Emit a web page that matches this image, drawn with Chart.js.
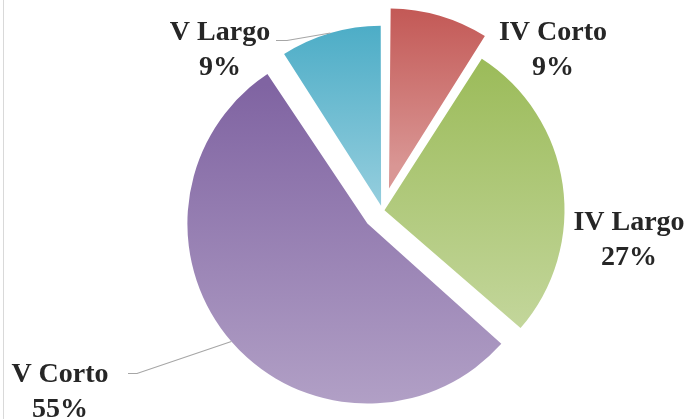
<!DOCTYPE html>
<html><head><meta charset="utf-8">
<script src="https://cdn.jsdelivr.net/npm/chart.js@4.4.0/dist/chart.umd.min.js"></script>
<style>
html,body{margin:0;padding:0;background:#fff;overflow:hidden}
#wrap{position:relative;width:691px;height:419px}
#edge{position:absolute;left:3px;top:0;width:1px;height:419px;background:#d9d9d9}
canvas{display:block}
</style></head><body>
<div id="wrap"><canvas id="c" width="691" height="419"></canvas><div id="edge"></div></div>
<script>
const categories = ['IV Corto', 'IV Largo', 'V Corto', 'V Largo'];
const values = [1, 3, 6, 1];
const explode = [92, 8, 80, 20];
const topColors = ['#C0504D', '#9BBB59', '#8064A2', '#4BACC6'];
const bottomColors = ['#D99694', '#C3D69B', '#B3A2C7', '#93CDDD'];

const RADIUS = 180;
const total = values.reduce((a, b) => a + b, 0);
const percentLabels = values.map(v => Math.round(v / total * 100) + '%');

function sliceGradient(context) {
  const chart = context.chart, area = chart.chartArea, i = context.dataIndex;
  if (!area) return topColors[i];
  const data = context.dataset.data;
  const tot = data.reduce((a, b) => a + b, 0);
  let cum = 0;
  for (let k = 0; k < i; k++) cum += data[k];
  const a0 = -Math.PI / 2 + 2 * Math.PI * cum / tot;
  const a1 = a0 + 2 * Math.PI * data[i] / tot;
  const t = explode[i] / 4;
  const r = RADIUS;
  const mid = (a0 + a1) / 2;
  const cy = (area.top + area.bottom) / 2 + Math.sin(mid) * t;
  const ys = [cy, cy + Math.sin(a0) * r, cy + Math.sin(a1) * r];
  for (const ang of [-Math.PI / 2, Math.PI / 2, 3 * Math.PI / 2]) {
    if (ang >= a0 && ang <= a1) ys.push(cy + Math.sin(ang) * r);
  }
  const g = chart.ctx.createLinearGradient(0, Math.min(...ys), 0, Math.max(...ys));
  g.addColorStop(0, topColors[i]);
  g.addColorStop(1, bottomColors[i]);
  return g;
}

// keep every exploded slice at the same radius (cancel Chart.js' radial growth of offset arcs)
const equalRadiusPlugin = {
  id: 'equalRadius',
  afterDatasetUpdate(chart, args) {
    args.meta.data.forEach(arc => {
      const t = (arc.options.offset || 0) / 4;
      const fix = 1 - Math.sin(Math.min(Math.PI, arc.circumference || 0));
      arc.outerRadius = RADIUS - t * fix;
    });
  }
};

// text placement (layout only)
const labelLayout = [
  { x: 553, y: 40, line: null },
  { x: 629, y: 230, line: null },
  { x: 60, y: 382, line: { x: 128, y: 373, elbowX: 137 } },
  { x: 220, y: 40, line: { x: 276, y: 40, elbowX: 287 } }
];

const labelPlugin = {
  id: 'pieLabels',
  afterDatasetsDraw(chart) {
    const ctx = chart.ctx;
    const meta = chart.getDatasetMeta(0);
    ctx.save();
    meta.data.forEach((arc, i) => {
      const L = labelLayout[i];
      if (L.line) {
        const p = arc.getProps(['x', 'y', 'startAngle', 'endAngle', 'outerRadius', 'circumference'], true);
        const t = (arc.options.offset || 0) / 4;
        const fix = 1 - Math.sin(Math.min(Math.PI, p.circumference));
        const mid = (p.startAngle + p.endAngle) / 2;
        const rr = p.outerRadius + t * fix;
        const px = p.x + Math.cos(mid) * (t + rr);
        const py = p.y + Math.sin(mid) * (t + rr);
        ctx.beginPath();
        ctx.strokeStyle = '#A6A6A6';
        ctx.lineWidth = 1.2;
        ctx.moveTo(L.line.x, L.line.y + 0.5);
        ctx.lineTo(L.line.elbowX, L.line.y + 0.5);
        ctx.lineTo(px, py);
        ctx.stroke();
      }
      ctx.fillStyle = '#262626';
      ctx.font = 'bold 28px "Liberation Serif"';
      ctx.textAlign = 'center';
      ctx.textBaseline = 'alphabetic';
      ctx.fillText(chart.data.labels[i], L.x, L.y);
      ctx.fillText(percentLabels[i], L.x, L.y + 35);
    });
    ctx.restore();
  }
};

new Chart(document.getElementById('c'), {
  type: 'pie',
  data: {
    labels: categories,
    datasets: [{
      data: values,
      backgroundColor: sliceGradient,
      borderWidth: 0,
      offset: explode
    }]
  },
  options: {
    responsive: false,
    animation: false,
    radius: RADIUS,
    layout: { padding: { left: 74, right: 0, top: 2, bottom: 0 } },
    plugins: { legend: { display: false }, tooltip: { enabled: false } },
    events: []
  },
  plugins: [equalRadiusPlugin, labelPlugin]
});
</script>
</body></html>
